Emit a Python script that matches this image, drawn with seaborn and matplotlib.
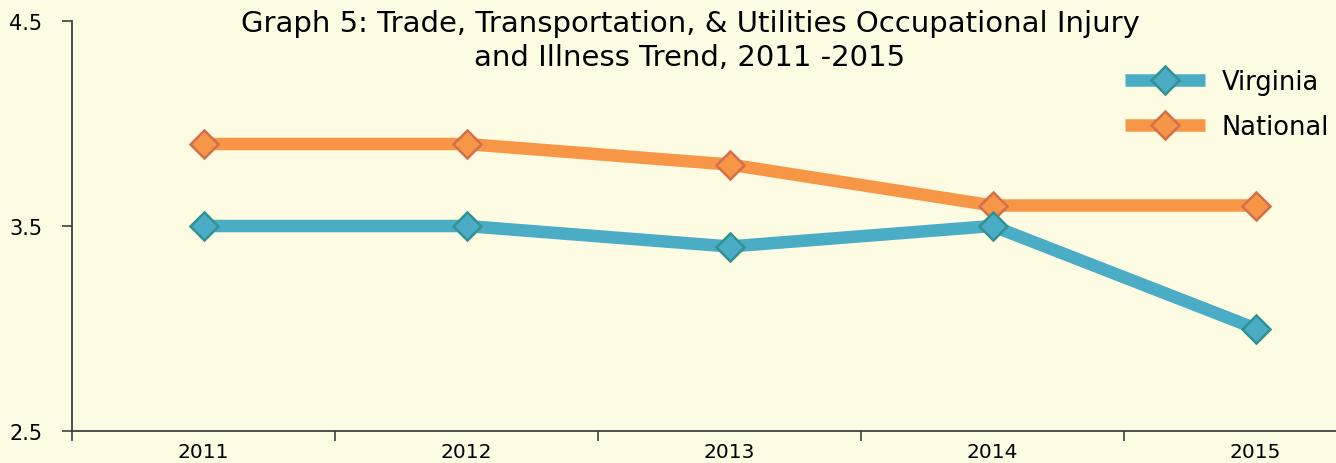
import pandas as pd
import seaborn as sns
import matplotlib.pyplot as plt

# Chart data
years = ['2011', '2012', '2013', '2014', '2015']
virginia = [3.5, 3.5, 3.4, 3.5, 3.0]
national = [3.9, 3.9, 3.8, 3.6, 3.6]

df = pd.DataFrame({'year': years, 'Virginia': virginia, 'National': national})

bg = '#FDFBE1'
sns.set_style('white')
plt.rcParams['font.family'] = ['DejaVu Sans']
plt.rcParams['text.color'] = 'black'
plt.rcParams['xtick.color'] = 'black'
plt.rcParams['ytick.color'] = 'black'

fig = plt.figure(figsize=(13.36, 4.64), dpi=100, facecolor=bg)
# plot area runs past the right edge of the figure, as in the original
ax = fig.add_axes([72 / 1336, 32 / 464, 1315 / 1336, 410 / 464], facecolor=bg)

styles = {
    'National': dict(color='#F79646', mec='#D2704E'),
    'Virginia': dict(color='#4BACC6', mec='#2E9391'),
}
for name in ['National', 'Virginia']:
    st = styles[name]
    sns.lineplot(data=df, x='year', y=name, ax=ax, color=st['color'], linewidth=9,
                 marker='D', markersize=14, markerfacecolor=st['color'],
                 markeredgecolor=st['mec'], markeredgewidth=1.8, label=name,
                 solid_capstyle='butt', clip_on=False)

ax.set_xlim(-0.5, 4.5)
ax.set_ylim(2.5, 4.5)
ax.set_yticks([2.5, 3.5, 4.5])
ax.set_yticklabels(['2.5', '3.5', '4.5'])
ax.set_xticks(range(len(years)))
ax.set_xticklabels(years)
ax.set_xticks([i - 0.5 for i in range(len(years) + 1)], minor=True)
ax.tick_params(bottom=True, left=True, which='both')
ax.tick_params(axis='x', which='major', length=0, labelsize=14.5, pad=8)
ax.tick_params(axis='x', which='minor', length=7.2, width=1.2, color='#404040', direction='out')
ax.tick_params(axis='y', length=7.2, width=1.2, color='#404040', direction='out', labelsize=15, pad=14)
ax.set_xlabel('')
ax.set_ylabel('')

for s in ['top', 'right']:
    ax.spines[s].set_visible(False)
for s in ['left', 'bottom']:
    ax.spines[s].set_color('#404040')
    ax.spines[s].set_linewidth(1.3)

fig.text(690 / 1336, 1 - 41 / 464, 'Graph 5: Trade, Transportation, & Utilities Occupational Injury\nand Illness Trend, 2011 -2015',
         ha='center', va='center', fontsize=21, linespacing=1.3)

h, l = ax.get_legend_handles_labels()
order = [l.index('Virginia'), l.index('National')]
ax.legend([h[i] for i in order], [l[i] for i in order], loc='upper left',
          bbox_to_anchor=(1125 / 1336, 1 - 70 / 464), bbox_transform=fig.transFigure,
          frameon=False, fontsize=18.5, handlelength=3.1, labelspacing=0.74,
          handletextpad=0.65, borderaxespad=0, borderpad=0)

fig.savefig('out.png', dpi=100, facecolor=bg)
